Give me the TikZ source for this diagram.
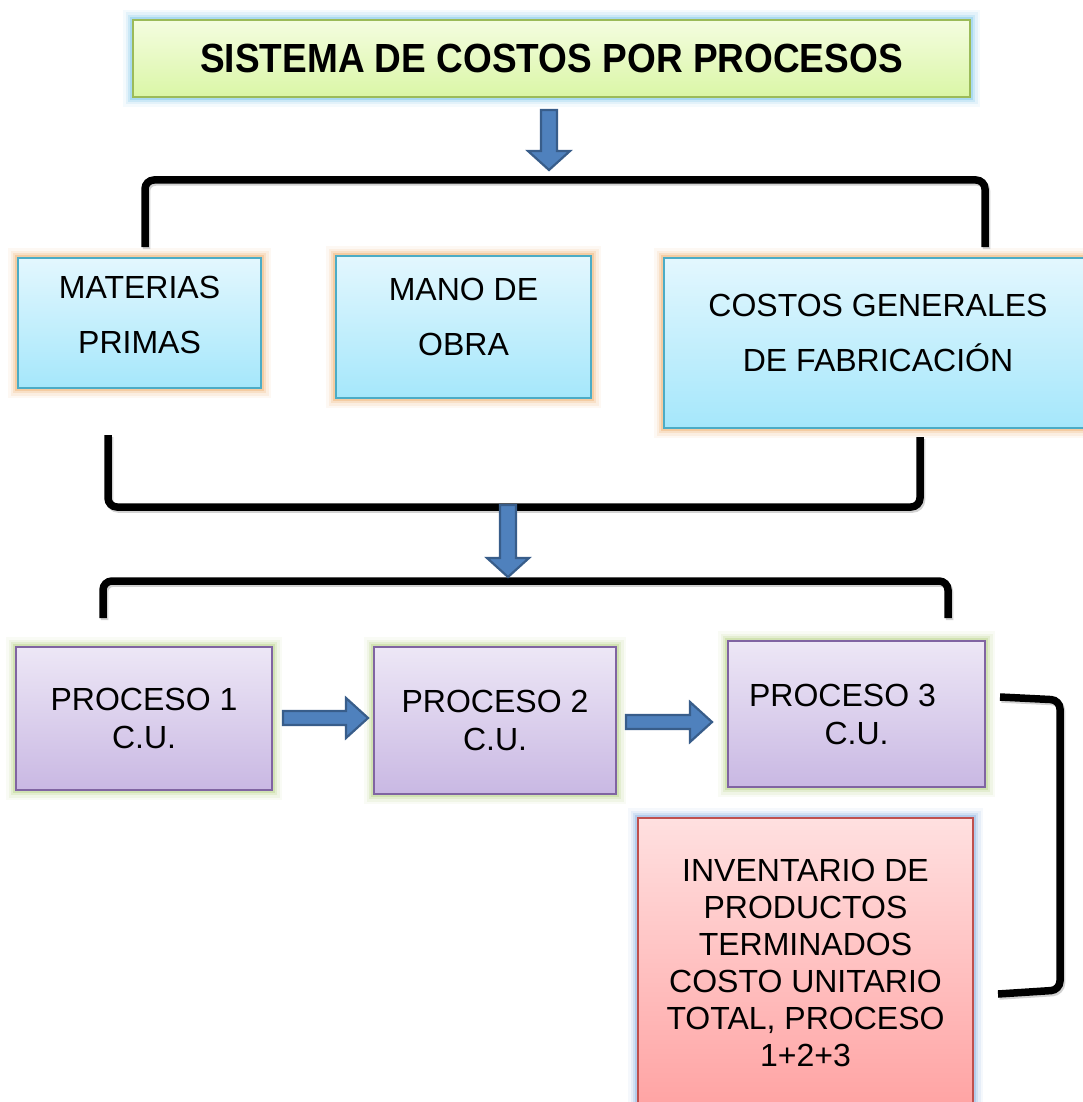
\documentclass[tikz,border=0pt]{standalone}
\usepackage{fontspec}
\setmainfont{Liberation Sans}
\definecolor{titletop}{HTML}{F4FDE0}
\definecolor{titlebot}{HTML}{DAF6A6}
\definecolor{titleline}{HTML}{9BBB59}
\definecolor{glowblue}{HTML}{6CC0E6}
\definecolor{cyantop}{HTML}{E3F7FE}
\definecolor{cyanbot}{HTML}{A5E7FB}
\definecolor{cyanline}{HTML}{4BACC6}
\definecolor{gloworange}{HTML}{EFA85F}
\definecolor{lavtop}{HTML}{EDE7F6}
\definecolor{lavbot}{HTML}{C9B8E3}
\definecolor{lavline}{HTML}{8064A2}
\definecolor{glowgreen}{HTML}{B0CE7C}
\definecolor{pinktop}{HTML}{FFE0E0}
\definecolor{pinkbot}{HTML}{FFA3A3}
\definecolor{pinkline}{HTML}{C0504D}
\definecolor{glowpink}{HTML}{7FA9DE}
\definecolor{arrfill}{HTML}{4F81BD}
\definecolor{arrline}{HTML}{385D8A}
\newcommand{\blockdown}[3]{%
  \draw[blockarr] ({#1-8},#2) -- ({#1+8},#2) -- ({#1+8},{#3-19}) -- ({#1+21},{#3-19})
    -- (#1,#3) -- ({#1-21},{#3-19}) -- ({#1-8},{#3-19}) -- cycle;}
\newcommand{\blockright}[3]{%
  \draw[blockarr] (#1,{#3-7}) -- ({#2-22},{#3-7}) -- ({#2-22},{#3-20}) -- (#2,#3)
    -- ({#2-22},{#3+20}) -- ({#2-22},{#3+7}) -- (#1,{#3+7}) -- cycle;}
\begin{document}
\begin{tikzpicture}[x=1pt,y=-1pt,
  glow/.style={preaction={draw=#1,line width=20pt,opacity=.07,rounded corners=6pt},
               preaction={draw=#1,line width=15pt,opacity=.12,rounded corners=4pt},
               preaction={draw=#1,line width=10pt,opacity=.2,rounded corners=2pt},
               preaction={draw=#1,line width=6pt,opacity=.35}},
  box/.style={draw, line width=1.3pt, inner sep=0pt, align=center,
              font=\fontsize{32}{38}\selectfont},
  titlebox/.style={box, glow=glowblue, top color=titletop, bottom color=titlebot,
              draw=titleline, font=\fontsize{37}{44}\selectfont\bfseries},
  cyanbox/.style={box, glow=gloworange, top color=cyantop, bottom color=cyanbot,
              draw=cyanline},
  lavbox/.style={box, glow=glowgreen, top color=lavtop, bottom color=lavbot,
              draw=lavline},
  pinkbox/.style={box, glow=glowpink, top color=pinktop, bottom color=pinkbot,
              draw=pinkline, font=\fontsize{32}{37}\selectfont},
  boxtext/.style={font=\fontsize{32}{55}\selectfont, align=center, inner sep=0pt},
  brace/.style={line width=7.5pt, rounded corners=9pt, line cap=butt,
              preaction={draw=black!35, line width=7.5pt, transform canvas={xshift=1.5pt,yshift=-2pt}, opacity=.5}},
  blockarr/.style={fill=arrfill, draw=arrline, line width=2.2pt, line join=miter}]
\clip (0,0) rectangle (1083,1102);
\fill[white] (0,0) rectangle (1083,1102);

% title
\node[titlebox, minimum width=837, minimum height=77] (title) at (551.5,58.5)
  {\scalebox{1}[1.1]{SISTEMA DE COSTOS POR PROCESOS}};

% first row
\node[cyanbox, minimum width=243, minimum height=130] (mat) at (139.5,323) {};
\node[boxtext] (matt) at (139.5,315) {MATERIAS\\PRIMAS};
\node[cyanbox, minimum width=255, minimum height=142] (mano) at (463.5,327) {};
\node[boxtext] (manot) at (463.5,317) {MANO DE\\OBRA};
\node[cyanbox, minimum width=426, minimum height=170] (cgf) at (877,343) {};
\node[boxtext] (cgft) at (878,333) {COSTOS GENERALES\\DE FABRICACI\'ON};

% processes
\node[lavbox, minimum width=256, minimum height=143] (p1) at (144,718.5) {PROCESO 1\\C.U.};
\node[lavbox, minimum width=242, minimum height=147] (p2) at (495,720.5) {PROCESO 2\\C.U.};
\node[lavbox, minimum width=257, minimum height=146] (p3) at (856.5,714) {PROCESO 3\hspace*{28pt}\\C.U.};

% inventory
\node[pinkbox, minimum width=335, minimum height=290] (inv) at (805.5,963) {INVENTARIO DE\\PRODUCTOS\\TERMINADOS\\COSTO UNITARIO\\TOTAL, PROCESO\\1+2+3};

% brackets
\coordinate (b1l) at (145,247); \coordinate (b1r) at (985,247);
\draw[brace] (b1l) -- (145,180) -- (985,180) -- (b1r);
\coordinate (b2l) at (108,435); \coordinate (b2r) at (920,437);
\draw[brace] (b2l) -- (108,507) -- (920,507) -- (b2r);
\coordinate (b3l) at (103,618); \coordinate (b3r) at (948,618);
\draw[brace] (b3l) -- (103,581) -- (948,581) -- (b3r);
\coordinate (b4t) at (1000,697); \coordinate (b4b) at (998,994);
\draw[brace] (b4t) -- (1060,700) -- (1060,990) -- (b4b);

% block arrows
\blockdown{549}{110}{170}
\blockdown{508}{505}{577}
\blockright{283}{368}{718}
\blockright{626}{712}{722}
\end{tikzpicture}
\end{document}
